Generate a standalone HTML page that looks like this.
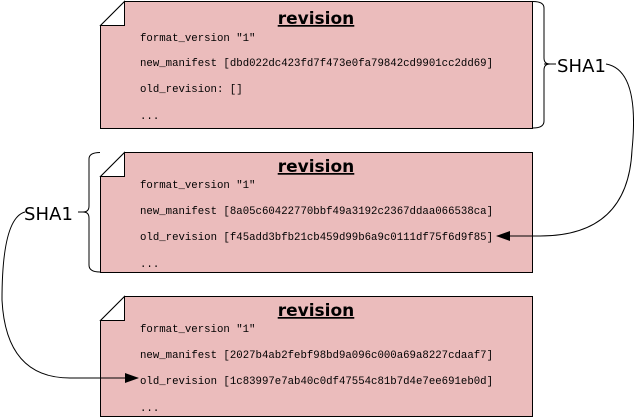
<!DOCTYPE html>
<html><head><style>body{margin:0;background:#fff}svg{display:block}</style></head><body>
<svg width="634" height="418" xmlns="http://www.w3.org/2000/svg">
<defs><marker id="a" markerWidth="14" markerHeight="10" refX="13" refY="5" orient="auto" markerUnits="userSpaceOnUse"><path d="M0,0 L14,5 L0,10 z" fill="#000"/></marker></defs>
<g stroke="#000" stroke-width="1" fill="#ebbcbc">
<path d="M124.5,1.5 H532.5 V128.5 H100.5 V25.5 Z"/>
<path d="M124.5,152.5 H532.5 V272.5 H100.5 V176.5 Z"/>
<path d="M124.5,296.5 H532.5 V416.5 H100.5 V320.5 Z"/>
</g>
<g stroke="#000" stroke-width="1" fill="#fff">
<path d="M124.5,1.5 V25.5 H100.5 Z"/>
<path d="M124.5,152.5 V176.5 H100.5 Z"/>
<path d="M124.5,296.5 V320.5 H100.5 Z"/>
</g>
<g fill="none" stroke="#000" stroke-width="1">
<path d="M533,1.5 Q544,1.5 544,8 V58 Q544,64 550,64 Q544,64 544,70 V121 Q544,128 533,128"/>
<path d="M100,152.5 Q89,152.5 89,159 V206 Q89,212 83,212 Q89,212 89,218 V265 Q89,272 100,272"/>
<path d="M606,64 Q640,70 632,150 Q628,236 540,236 H497" marker-end="url(#a)"/>
<path d="M25,212 Q2,218 2,300 Q6,378 70,378 H138" marker-end="url(#a)"/>
<path d="M544,64 H556 M78,212 H83"/>
</g>
<g font-family="'DejaVu Sans','Liberation Sans',sans-serif" font-size="18" fill="#000">
<text x="557" y="72" textLength="49">SHA1</text>
<text x="24" y="220" textLength="49">SHA1</text>
</g>
<g font-family="'DejaVu Sans','Liberation Sans',sans-serif" font-size="17" font-weight="bold" text-decoration="underline" text-anchor="middle">
<text x="316" y="24">revision</text>
<text x="316" y="172">revision</text>
<text x="316" y="316">revision</text>
</g>
<g font-family="'Liberation Mono','DejaVu Sans Mono',monospace" font-size="10.7" fill="#000">
<text x="140" y="41">format_version "1"</text>
<text x="140" y="66" textLength="353">new_manifest [dbd022dc423fd7f473e0fa79842cd9901cc2dd69]</text>
<text x="140" y="92">old_revision: []</text>
<text x="140" y="119">...</text>
<text x="140" y="188">format_version "1"</text>
<text x="140" y="214" textLength="353">new_manifest [8a05c60422770bbf49a3192c2367ddaa066538ca]</text>
<text x="140" y="240" textLength="353">old_revision [f45add3bfb21cb459d99b6a9c0111df75f6d9f85]</text>
<text x="140" y="267">...</text>
<text x="140" y="332">format_version "1"</text>
<text x="140" y="358" textLength="353">new_manifest [2027b4ab2febf98bd9a096c000a69a8227cdaaf7]</text>
<text x="140" y="384" textLength="353">old_revision [1c83997e7ab40c0df47554c81b7d4e7ee691eb0d]</text>
<text x="140" y="411">...</text>
</g>
</svg>
</body></html>
